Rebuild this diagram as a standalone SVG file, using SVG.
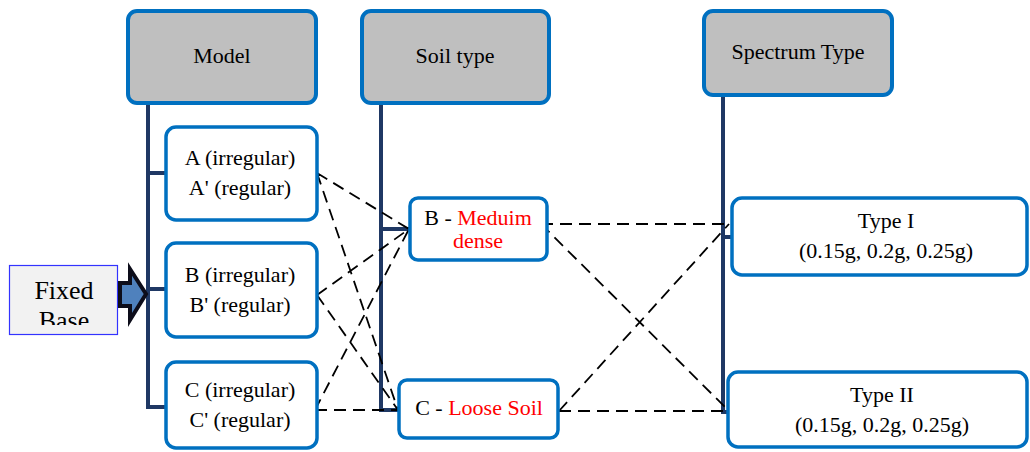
<svg xmlns="http://www.w3.org/2000/svg" width="1030" height="452" viewBox="0 0 1030 452">
<style>
.hdr{fill:#BFBFBF;stroke:#0070C0;stroke-width:4}
.box{fill:#FFFFFF;stroke:#0070C0;stroke-width:3.5}
.t{font-family:"Liberation Serif","DejaVu Serif","Times New Roman",serif;font-size:22px;fill:#000;text-anchor:middle}
.red{fill:#FF0000}
.trunk{fill:none;stroke:#1F3864;stroke-width:4}
.dash{fill:none;stroke:#000;stroke-width:1.8;stroke-dasharray:12 7}
</style>
<defs>
<clipPath id="fbclip"><rect x="10" y="266" width="107" height="59"/></clipPath>
</defs>
<g id="trunks">
<path class="trunk" d="M148 103 V407 H166 M148 173 H166 M148 289 H166"/>
<path class="trunk" d="M381 104 V410 H399 M381 229 H410"/>
<path class="trunk" d="M723 95 V412 H728 M723 237 H732"/>
</g>
<g id="connectors">
<path class="dash" d="M317 173 L409 229 M317 173 L398 410 M317 295 L409 229 M317 295 L398 410 M315 410 L409 229 M315 410 L398 410"/>
<path class="dash" d="M541 224 L731 224 M541 224 L729 411 M559 411 L729 411 M559 411 L729 224"/>
</g>
<g id="model">
<rect class="hdr" x="128" y="11" width="188" height="92" rx="9"/>
<text class="t" x="222" y="63">Model</text>
</g>
<g id="soil">
<rect class="hdr" x="362" y="11" width="187" height="92" rx="9"/>
<text class="t" x="455" y="63">Soil type</text>
</g>
<g id="spectrum">
<rect class="hdr" x="704" y="11" width="188" height="84" rx="9"/>
<text class="t" x="798" y="59">Spectrum Type</text>
</g>
<g id="modelA">
<rect class="box" x="166" y="127" width="151" height="93" rx="10"/>
<text class="t" x="240" y="165">A (irregular)</text>
<text class="t" x="240" y="195">A' (regular)</text>
</g>
<g id="modelB">
<rect class="box" x="166" y="243" width="151" height="94" rx="10"/>
<text class="t" x="240" y="282">B (irregular)</text>
<text class="t" x="240" y="312">B' (regular)</text>
</g>
<g id="modelC">
<rect class="box" x="166" y="362" width="151" height="86" rx="10"/>
<text class="t" x="240" y="397">C (irregular)</text>
<text class="t" x="240" y="427">C' (regular)</text>
</g>
<g id="soilB">
<rect class="box" x="410" y="198" width="137" height="62" rx="8"/>
<text class="t" x="478" y="225">B - <tspan class="red">Meduim</tspan></text>
<text class="t red" x="478" y="248">dense</text>
</g>
<g id="soilC">
<rect class="box" x="399" y="380" width="159" height="58" rx="8"/>
<text class="t" x="479" y="415">C - <tspan class="red">Loose Soil</tspan></text>
</g>
<g id="type1">
<rect class="box" x="732" y="198" width="295" height="77" rx="10"/>
<text class="t" x="886" y="228">Type I</text>
<text class="t" x="886" y="258">(0.15g, 0.2g, 0.25g)</text>
</g>
<g id="type2">
<rect class="box" x="728" y="372" width="299" height="75" rx="10"/>
<text class="t" x="882" y="402">Type II</text>
<text class="t" x="882" y="432">(0.15g, 0.2g, 0.25g)</text>
</g>
<g id="fixedbase">
<rect x="9.5" y="265.5" width="108" height="69" fill="#F2F2F2" stroke="#3333FF" stroke-width="1.2"/>
<g clip-path="url(#fbclip)">
<text class="t" x="64" y="299" style="font-size:26px">Fixed</text>
<text class="t" x="64" y="329" style="font-size:26px">Base</text>
</g>
<polygon points="120,283 130,283 130,269 146,294 130,320 130,306 120,306" fill="#4F81BD" stroke="#0D0D1A" stroke-width="4" stroke-linejoin="miter"/>
</g>
</svg>
